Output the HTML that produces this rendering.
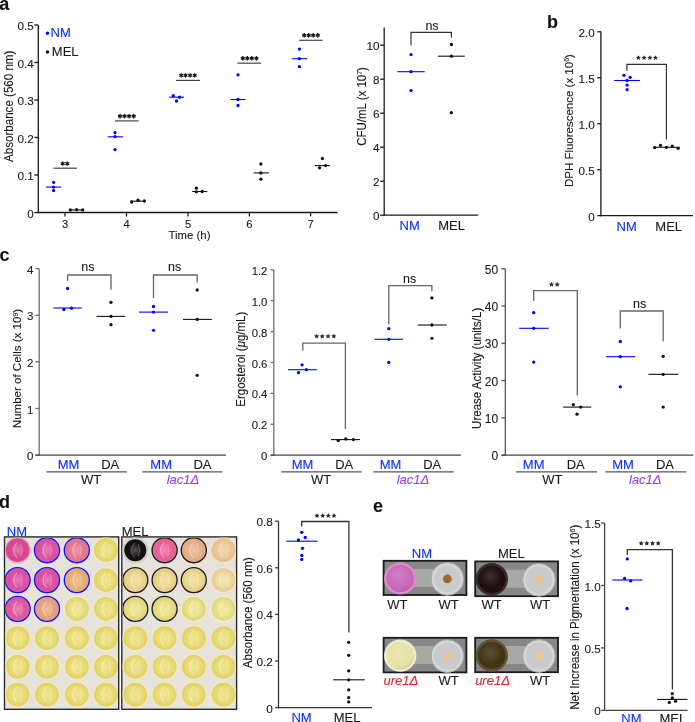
<!DOCTYPE html>
<html><head><meta charset="utf-8"><style>
html,body{margin:0;padding:0;background:#fff;}
svg{display:block;font-family:"Liberation Sans", sans-serif;will-change:transform;}

</style></head><body>
<svg width="695" height="722" viewBox="0 0 695 722">
<defs>
<radialGradient id="shade2" cx="0.45" cy="0.4" r="0.6">
<stop offset="0" stop-color="#fff" stop-opacity="0.15"/>
<stop offset="0.8" stop-color="#fff" stop-opacity="0"/>
<stop offset="1" stop-color="#000" stop-opacity="0.1"/>
</radialGradient>
</defs>
<rect width="695" height="722" fill="#fff"/>
<rect x="4.5" y="536.9" width="114.2" height="172.4" fill="#e6e2dc" stroke="#2a2a2a" stroke-width="1.4"/>
<rect x="121.8" y="536.9" width="114.8" height="172.4" fill="#e6e2dc" stroke="#2a2a2a" stroke-width="1.4"/>
<clipPath id="cpL"><rect x="5.2" y="537.6" width="112.8" height="171"/></clipPath>
<clipPath id="cpR"><rect x="122.5" y="537.6" width="113.4" height="171"/></clipPath>
<g clip-path="url(#cpL)">
<radialGradient id="w1" cx="0.5" cy="0.5" r="0.5"><stop offset="0" stop-color="#e57bac"/><stop offset="0.6" stop-color="#da4496"/><stop offset="1" stop-color="#d34f86"/></radialGradient>
<circle cx="17.60" cy="550.20" r="13.4" fill="#eab5cb"/>
<circle cx="17.60" cy="550.20" r="11.9" fill="url(#w1)"/>
<path d="M20.60,543.70 q3.0,6.5 0,13" fill="none" stroke="#ffffff" stroke-opacity="0.25" stroke-width="1.0"/>
<path d="M17.10,542.70 q-7,7.5 0,15" fill="none" stroke="#ffffff" stroke-opacity="0.35" stroke-width="1.3"/>
<radialGradient id="w2" cx="0.5" cy="0.5" r="0.5"><stop offset="0" stop-color="#e683b7"/><stop offset="0.6" stop-color="#dc50a6"/><stop offset="1" stop-color="#d55993"/></radialGradient>
<circle cx="47.00" cy="550.20" r="13.4" fill="#ebb9d0"/>
<circle cx="47.00" cy="550.20" r="11.9" fill="url(#w2)"/>
<path d="M50.00,543.70 q3.0,6.5 0,13" fill="none" stroke="#ffffff" stroke-opacity="0.25" stroke-width="1.0"/>
<path d="M46.50,542.70 q-7,7.5 0,15" fill="none" stroke="#ffffff" stroke-opacity="0.35" stroke-width="1.3"/>
<circle cx="47.00" cy="550.20" r="12.50" fill="none" stroke="#1010ff" stroke-width="1.35"/>
<radialGradient id="w3" cx="0.5" cy="0.5" r="0.5"><stop offset="0" stop-color="#eb9fa9"/><stop offset="0.6" stop-color="#e27892"/><stop offset="1" stop-color="#da7b82"/></radialGradient>
<circle cx="76.80" cy="550.20" r="13.4" fill="#edc7c9"/>
<circle cx="76.80" cy="550.20" r="11.9" fill="url(#w3)"/>
<path d="M79.80,543.70 q3.0,6.5 0,13" fill="none" stroke="#ffffff" stroke-opacity="0.25" stroke-width="1.0"/>
<path d="M76.30,542.70 q-7,7.5 0,15" fill="none" stroke="#ffffff" stroke-opacity="0.35" stroke-width="1.3"/>
<circle cx="76.80" cy="550.20" r="12.50" fill="none" stroke="#1010ff" stroke-width="1.35"/>
<radialGradient id="w4" cx="0.5" cy="0.5" r="0.5"><stop offset="0" stop-color="#f0e596"/><stop offset="0.6" stop-color="#e9dc76"/><stop offset="1" stop-color="#e0cf6b"/></radialGradient>
<circle cx="106.00" cy="550.20" r="13.4" fill="#efe9c0"/>
<circle cx="106.00" cy="550.20" r="11.9" fill="url(#w4)"/>
<path d="M109.00,543.70 q3.0,6.5 0,13" fill="none" stroke="#ffffff" stroke-opacity="0.25" stroke-width="1.0"/>
<path d="M105.50,542.70 q-7,7.5 0,15" fill="none" stroke="#ffffff" stroke-opacity="0.35" stroke-width="1.3"/>
<radialGradient id="w5" cx="0.5" cy="0.5" r="0.5"><stop offset="0" stop-color="#e682b9"/><stop offset="0.6" stop-color="#dc4ea8"/><stop offset="1" stop-color="#d55895"/></radialGradient>
<circle cx="17.60" cy="580.10" r="13.4" fill="#ebb8d1"/>
<circle cx="17.60" cy="580.10" r="11.9" fill="url(#w5)"/>
<path d="M20.60,573.60 q3.0,6.5 0,13" fill="none" stroke="#ffffff" stroke-opacity="0.25" stroke-width="1.0"/>
<path d="M17.10,572.60 q-7,7.5 0,15" fill="none" stroke="#ffffff" stroke-opacity="0.35" stroke-width="1.3"/>
<circle cx="17.60" cy="580.10" r="12.50" fill="none" stroke="#1010ff" stroke-width="1.35"/>
<radialGradient id="w6" cx="0.5" cy="0.5" r="0.5"><stop offset="0" stop-color="#e682b6"/><stop offset="0.6" stop-color="#dc4ea4"/><stop offset="1" stop-color="#d55891"/></radialGradient>
<circle cx="47.00" cy="580.10" r="13.4" fill="#ebb8d0"/>
<circle cx="47.00" cy="580.10" r="11.9" fill="url(#w6)"/>
<path d="M50.00,573.60 q3.0,6.5 0,13" fill="none" stroke="#ffffff" stroke-opacity="0.25" stroke-width="1.0"/>
<path d="M46.50,572.60 q-7,7.5 0,15" fill="none" stroke="#ffffff" stroke-opacity="0.35" stroke-width="1.3"/>
<circle cx="47.00" cy="580.10" r="12.50" fill="none" stroke="#1010ff" stroke-width="1.35"/>
<radialGradient id="w7" cx="0.5" cy="0.5" r="0.5"><stop offset="0" stop-color="#efc697"/><stop offset="0.6" stop-color="#e8b078"/><stop offset="1" stop-color="#dfaa6c"/></radialGradient>
<circle cx="76.80" cy="580.10" r="13.4" fill="#efdac1"/>
<circle cx="76.80" cy="580.10" r="11.9" fill="url(#w7)"/>
<path d="M79.80,573.60 q3.0,6.5 0,13" fill="none" stroke="#ffffff" stroke-opacity="0.25" stroke-width="1.0"/>
<path d="M76.30,572.60 q-7,7.5 0,15" fill="none" stroke="#ffffff" stroke-opacity="0.35" stroke-width="1.3"/>
<circle cx="76.80" cy="580.10" r="12.50" fill="none" stroke="#1010ff" stroke-width="1.35"/>
<radialGradient id="w8" cx="0.5" cy="0.5" r="0.5"><stop offset="0" stop-color="#f0e596"/><stop offset="0.6" stop-color="#e9dc76"/><stop offset="1" stop-color="#e0cf6b"/></radialGradient>
<circle cx="106.00" cy="580.10" r="13.4" fill="#efe9c0"/>
<circle cx="106.00" cy="580.10" r="11.9" fill="url(#w8)"/>
<path d="M109.00,573.60 q3.0,6.5 0,13" fill="none" stroke="#ffffff" stroke-opacity="0.25" stroke-width="1.0"/>
<path d="M105.50,572.60 q-7,7.5 0,15" fill="none" stroke="#ffffff" stroke-opacity="0.35" stroke-width="1.3"/>
<radialGradient id="w9" cx="0.5" cy="0.5" r="0.5"><stop offset="0" stop-color="#e989b2"/><stop offset="0.6" stop-color="#e0589e"/><stop offset="1" stop-color="#d8608c"/></radialGradient>
<circle cx="17.60" cy="608.90" r="13.4" fill="#ecbcce"/>
<circle cx="17.60" cy="608.90" r="11.9" fill="url(#w9)"/>
<path d="M20.60,602.40 q3.0,6.5 0,13" fill="none" stroke="#ffffff" stroke-opacity="0.25" stroke-width="1.0"/>
<path d="M17.10,601.40 q-7,7.5 0,15" fill="none" stroke="#ffffff" stroke-opacity="0.35" stroke-width="1.3"/>
<circle cx="17.60" cy="608.90" r="12.50" fill="none" stroke="#1010ff" stroke-width="1.35"/>
<radialGradient id="w10" cx="0.5" cy="0.5" r="0.5"><stop offset="0" stop-color="#efbd9e"/><stop offset="0.6" stop-color="#e8a282"/><stop offset="1" stop-color="#df9e75"/></radialGradient>
<circle cx="47.00" cy="608.90" r="13.4" fill="#efd5c4"/>
<circle cx="47.00" cy="608.90" r="11.9" fill="url(#w10)"/>
<path d="M50.00,602.40 q3.0,6.5 0,13" fill="none" stroke="#ffffff" stroke-opacity="0.25" stroke-width="1.0"/>
<path d="M46.50,601.40 q-7,7.5 0,15" fill="none" stroke="#ffffff" stroke-opacity="0.35" stroke-width="1.3"/>
<circle cx="47.00" cy="608.90" r="12.50" fill="none" stroke="#1010ff" stroke-width="1.35"/>
<radialGradient id="w11" cx="0.5" cy="0.5" r="0.5"><stop offset="0" stop-color="#f0e79e"/><stop offset="0.6" stop-color="#e9df82"/><stop offset="1" stop-color="#e0d175"/></radialGradient>
<circle cx="76.80" cy="608.90" r="13.4" fill="#efeac4"/>
<circle cx="76.80" cy="608.90" r="11.9" fill="url(#w11)"/>
<path d="M79.80,602.40 q3.0,6.5 0,13" fill="none" stroke="#ffffff" stroke-opacity="0.25" stroke-width="1.0"/>
<path d="M76.30,601.40 q-7,7.5 0,15" fill="none" stroke="#ffffff" stroke-opacity="0.35" stroke-width="1.3"/>
<radialGradient id="w12" cx="0.5" cy="0.5" r="0.5"><stop offset="0" stop-color="#f0e596"/><stop offset="0.6" stop-color="#e9dc76"/><stop offset="1" stop-color="#e0cf6b"/></radialGradient>
<circle cx="106.00" cy="608.90" r="13.4" fill="#efe9c0"/>
<circle cx="106.00" cy="608.90" r="11.9" fill="url(#w12)"/>
<path d="M109.00,602.40 q3.0,6.5 0,13" fill="none" stroke="#ffffff" stroke-opacity="0.25" stroke-width="1.0"/>
<path d="M105.50,601.40 q-7,7.5 0,15" fill="none" stroke="#ffffff" stroke-opacity="0.35" stroke-width="1.3"/>
<radialGradient id="w13" cx="0.5" cy="0.5" r="0.5"><stop offset="0" stop-color="#f0e596"/><stop offset="0.6" stop-color="#e9dc76"/><stop offset="1" stop-color="#e0cf6b"/></radialGradient>
<circle cx="17.60" cy="638.20" r="13.4" fill="#efe9c0"/>
<circle cx="17.60" cy="638.20" r="11.9" fill="url(#w13)"/>
<path d="M20.60,631.70 q3.0,6.5 0,13" fill="none" stroke="#ffffff" stroke-opacity="0.25" stroke-width="1.0"/>
<path d="M17.10,630.70 q-7,7.5 0,15" fill="none" stroke="#ffffff" stroke-opacity="0.35" stroke-width="1.3"/>
<radialGradient id="w14" cx="0.5" cy="0.5" r="0.5"><stop offset="0" stop-color="#f0e596"/><stop offset="0.6" stop-color="#e9dc76"/><stop offset="1" stop-color="#e0cf6b"/></radialGradient>
<circle cx="47.00" cy="638.20" r="13.4" fill="#efe9c0"/>
<circle cx="47.00" cy="638.20" r="11.9" fill="url(#w14)"/>
<path d="M50.00,631.70 q3.0,6.5 0,13" fill="none" stroke="#ffffff" stroke-opacity="0.25" stroke-width="1.0"/>
<path d="M46.50,630.70 q-7,7.5 0,15" fill="none" stroke="#ffffff" stroke-opacity="0.35" stroke-width="1.3"/>
<radialGradient id="w15" cx="0.5" cy="0.5" r="0.5"><stop offset="0" stop-color="#f0e596"/><stop offset="0.6" stop-color="#e9dc76"/><stop offset="1" stop-color="#e0cf6b"/></radialGradient>
<circle cx="76.80" cy="638.20" r="13.4" fill="#efe9c0"/>
<circle cx="76.80" cy="638.20" r="11.9" fill="url(#w15)"/>
<path d="M79.80,631.70 q3.0,6.5 0,13" fill="none" stroke="#ffffff" stroke-opacity="0.25" stroke-width="1.0"/>
<path d="M76.30,630.70 q-7,7.5 0,15" fill="none" stroke="#ffffff" stroke-opacity="0.35" stroke-width="1.3"/>
<radialGradient id="w16" cx="0.5" cy="0.5" r="0.5"><stop offset="0" stop-color="#f0e596"/><stop offset="0.6" stop-color="#e9dc76"/><stop offset="1" stop-color="#e0cf6b"/></radialGradient>
<circle cx="106.00" cy="638.20" r="13.4" fill="#efe9c0"/>
<circle cx="106.00" cy="638.20" r="11.9" fill="url(#w16)"/>
<path d="M109.00,631.70 q3.0,6.5 0,13" fill="none" stroke="#ffffff" stroke-opacity="0.25" stroke-width="1.0"/>
<path d="M105.50,630.70 q-7,7.5 0,15" fill="none" stroke="#ffffff" stroke-opacity="0.35" stroke-width="1.3"/>
<radialGradient id="w17" cx="0.5" cy="0.5" r="0.5"><stop offset="0" stop-color="#f0e596"/><stop offset="0.6" stop-color="#e9dc76"/><stop offset="1" stop-color="#e0cf6b"/></radialGradient>
<circle cx="17.60" cy="666.80" r="13.4" fill="#efe9c0"/>
<circle cx="17.60" cy="666.80" r="11.9" fill="url(#w17)"/>
<path d="M20.60,660.30 q3.0,6.5 0,13" fill="none" stroke="#ffffff" stroke-opacity="0.25" stroke-width="1.0"/>
<path d="M17.10,659.30 q-7,7.5 0,15" fill="none" stroke="#ffffff" stroke-opacity="0.35" stroke-width="1.3"/>
<radialGradient id="w18" cx="0.5" cy="0.5" r="0.5"><stop offset="0" stop-color="#f0e596"/><stop offset="0.6" stop-color="#e9dc76"/><stop offset="1" stop-color="#e0cf6b"/></radialGradient>
<circle cx="47.00" cy="666.80" r="13.4" fill="#efe9c0"/>
<circle cx="47.00" cy="666.80" r="11.9" fill="url(#w18)"/>
<path d="M50.00,660.30 q3.0,6.5 0,13" fill="none" stroke="#ffffff" stroke-opacity="0.25" stroke-width="1.0"/>
<path d="M46.50,659.30 q-7,7.5 0,15" fill="none" stroke="#ffffff" stroke-opacity="0.35" stroke-width="1.3"/>
<radialGradient id="w19" cx="0.5" cy="0.5" r="0.5"><stop offset="0" stop-color="#f0e596"/><stop offset="0.6" stop-color="#e9dc76"/><stop offset="1" stop-color="#e0cf6b"/></radialGradient>
<circle cx="76.80" cy="666.80" r="13.4" fill="#efe9c0"/>
<circle cx="76.80" cy="666.80" r="11.9" fill="url(#w19)"/>
<path d="M79.80,660.30 q3.0,6.5 0,13" fill="none" stroke="#ffffff" stroke-opacity="0.25" stroke-width="1.0"/>
<path d="M76.30,659.30 q-7,7.5 0,15" fill="none" stroke="#ffffff" stroke-opacity="0.35" stroke-width="1.3"/>
<radialGradient id="w20" cx="0.5" cy="0.5" r="0.5"><stop offset="0" stop-color="#f0e596"/><stop offset="0.6" stop-color="#e9dc76"/><stop offset="1" stop-color="#e0cf6b"/></radialGradient>
<circle cx="106.00" cy="666.80" r="13.4" fill="#efe9c0"/>
<circle cx="106.00" cy="666.80" r="11.9" fill="url(#w20)"/>
<path d="M109.00,660.30 q3.0,6.5 0,13" fill="none" stroke="#ffffff" stroke-opacity="0.25" stroke-width="1.0"/>
<path d="M105.50,659.30 q-7,7.5 0,15" fill="none" stroke="#ffffff" stroke-opacity="0.35" stroke-width="1.3"/>
<radialGradient id="w21" cx="0.5" cy="0.5" r="0.5"><stop offset="0" stop-color="#f0e596"/><stop offset="0.6" stop-color="#e9dc76"/><stop offset="1" stop-color="#e0cf6b"/></radialGradient>
<circle cx="17.60" cy="694.60" r="13.4" fill="#efe9c0"/>
<circle cx="17.60" cy="694.60" r="11.9" fill="url(#w21)"/>
<path d="M20.60,688.10 q3.0,6.5 0,13" fill="none" stroke="#ffffff" stroke-opacity="0.25" stroke-width="1.0"/>
<path d="M17.10,687.10 q-7,7.5 0,15" fill="none" stroke="#ffffff" stroke-opacity="0.35" stroke-width="1.3"/>
<radialGradient id="w22" cx="0.5" cy="0.5" r="0.5"><stop offset="0" stop-color="#f0e596"/><stop offset="0.6" stop-color="#e9dc76"/><stop offset="1" stop-color="#e0cf6b"/></radialGradient>
<circle cx="47.00" cy="694.60" r="13.4" fill="#efe9c0"/>
<circle cx="47.00" cy="694.60" r="11.9" fill="url(#w22)"/>
<path d="M50.00,688.10 q3.0,6.5 0,13" fill="none" stroke="#ffffff" stroke-opacity="0.25" stroke-width="1.0"/>
<path d="M46.50,687.10 q-7,7.5 0,15" fill="none" stroke="#ffffff" stroke-opacity="0.35" stroke-width="1.3"/>
<radialGradient id="w23" cx="0.5" cy="0.5" r="0.5"><stop offset="0" stop-color="#f0e596"/><stop offset="0.6" stop-color="#e9dc76"/><stop offset="1" stop-color="#e0cf6b"/></radialGradient>
<circle cx="76.80" cy="694.60" r="13.4" fill="#efe9c0"/>
<circle cx="76.80" cy="694.60" r="11.9" fill="url(#w23)"/>
<path d="M79.80,688.10 q3.0,6.5 0,13" fill="none" stroke="#ffffff" stroke-opacity="0.25" stroke-width="1.0"/>
<path d="M76.30,687.10 q-7,7.5 0,15" fill="none" stroke="#ffffff" stroke-opacity="0.35" stroke-width="1.3"/>
<radialGradient id="w24" cx="0.5" cy="0.5" r="0.5"><stop offset="0" stop-color="#f0e596"/><stop offset="0.6" stop-color="#e9dc76"/><stop offset="1" stop-color="#e0cf6b"/></radialGradient>
<circle cx="106.00" cy="694.60" r="13.4" fill="#efe9c0"/>
<circle cx="106.00" cy="694.60" r="11.9" fill="url(#w24)"/>
<path d="M109.00,688.10 q3.0,6.5 0,13" fill="none" stroke="#ffffff" stroke-opacity="0.25" stroke-width="1.0"/>
<path d="M105.50,687.10 q-7,7.5 0,15" fill="none" stroke="#ffffff" stroke-opacity="0.35" stroke-width="1.3"/>
</g><g clip-path="url(#cpR)">
<radialGradient id="w25" cx="0.5" cy="0.5" r="0.5"><stop offset="0" stop-color="#5a5651"/><stop offset="0.6" stop-color="#141014"/><stop offset="1" stop-color="#110d11"/></radialGradient>
<circle cx="135.30" cy="550.20" r="13.4" fill="#d4d0cc"/>
<circle cx="135.30" cy="550.20" r="11.0" fill="url(#w25)"/>
<path d="M138.30,543.70 q3.0,6.5 0,13" fill="none" stroke="#ffffff" stroke-opacity="0.25" stroke-width="1.0"/>
<path d="M134.80,542.70 q-7,7.5 0,15" fill="none" stroke="#ffffff" stroke-opacity="0.2" stroke-width="1.3"/>
<radialGradient id="w26" cx="0.5" cy="0.5" r="0.5"><stop offset="0" stop-color="#ef8eb2"/><stop offset="0.6" stop-color="#e8609e"/><stop offset="1" stop-color="#df678c"/></radialGradient>
<circle cx="164.60" cy="550.20" r="13.4" fill="#efbece"/>
<circle cx="164.60" cy="550.20" r="11.9" fill="url(#w26)"/>
<path d="M167.60,543.70 q3.0,6.5 0,13" fill="none" stroke="#ffffff" stroke-opacity="0.25" stroke-width="1.0"/>
<path d="M164.10,542.70 q-7,7.5 0,15" fill="none" stroke="#ffffff" stroke-opacity="0.35" stroke-width="1.3"/>
<circle cx="164.60" cy="550.20" r="12.50" fill="none" stroke="#1a1a1a" stroke-width="1.35"/>
<radialGradient id="w27" cx="0.5" cy="0.5" r="0.5"><stop offset="0" stop-color="#efc6a5"/><stop offset="0.6" stop-color="#e8b08c"/><stop offset="1" stop-color="#dfaa7d"/></radialGradient>
<circle cx="193.80" cy="550.20" r="13.4" fill="#efdac7"/>
<circle cx="193.80" cy="550.20" r="11.9" fill="url(#w27)"/>
<path d="M196.80,543.70 q3.0,6.5 0,13" fill="none" stroke="#ffffff" stroke-opacity="0.25" stroke-width="1.0"/>
<path d="M193.30,542.70 q-7,7.5 0,15" fill="none" stroke="#ffffff" stroke-opacity="0.35" stroke-width="1.3"/>
<circle cx="193.80" cy="550.20" r="12.50" fill="none" stroke="#1a1a1a" stroke-width="1.35"/>
<radialGradient id="w28" cx="0.5" cy="0.5" r="0.5"><stop offset="0" stop-color="#f2d7ae"/><stop offset="0.6" stop-color="#ecc898"/><stop offset="1" stop-color="#e2be87"/></radialGradient>
<circle cx="223.50" cy="550.20" r="13.4" fill="#f0e2cb"/>
<circle cx="223.50" cy="550.20" r="11.9" fill="url(#w28)"/>
<path d="M226.50,543.70 q3.0,6.5 0,13" fill="none" stroke="#ffffff" stroke-opacity="0.25" stroke-width="1.0"/>
<path d="M223.00,542.70 q-7,7.5 0,15" fill="none" stroke="#ffffff" stroke-opacity="0.35" stroke-width="1.3"/>
<radialGradient id="w29" cx="0.5" cy="0.5" r="0.5"><stop offset="0" stop-color="#f2e1a8"/><stop offset="0.6" stop-color="#ecd690"/><stop offset="1" stop-color="#e2ca81"/></radialGradient>
<circle cx="135.30" cy="580.10" r="13.4" fill="#f0e6c9"/>
<circle cx="135.30" cy="580.10" r="11.9" fill="url(#w29)"/>
<path d="M138.30,573.60 q3.0,6.5 0,13" fill="none" stroke="#ffffff" stroke-opacity="0.25" stroke-width="1.0"/>
<path d="M134.80,572.60 q-7,7.5 0,15" fill="none" stroke="#ffffff" stroke-opacity="0.35" stroke-width="1.3"/>
<circle cx="135.30" cy="580.10" r="12.50" fill="none" stroke="#1a1a1a" stroke-width="1.35"/>
<radialGradient id="w30" cx="0.5" cy="0.5" r="0.5"><stop offset="0" stop-color="#f2e1a8"/><stop offset="0.6" stop-color="#ecd690"/><stop offset="1" stop-color="#e2ca81"/></radialGradient>
<circle cx="164.60" cy="580.10" r="13.4" fill="#f0e6c9"/>
<circle cx="164.60" cy="580.10" r="11.9" fill="url(#w30)"/>
<path d="M167.60,573.60 q3.0,6.5 0,13" fill="none" stroke="#ffffff" stroke-opacity="0.25" stroke-width="1.0"/>
<path d="M164.10,572.60 q-7,7.5 0,15" fill="none" stroke="#ffffff" stroke-opacity="0.35" stroke-width="1.3"/>
<circle cx="164.60" cy="580.10" r="12.50" fill="none" stroke="#1a1a1a" stroke-width="1.35"/>
<radialGradient id="w31" cx="0.5" cy="0.5" r="0.5"><stop offset="0" stop-color="#f2e2a9"/><stop offset="0.6" stop-color="#ecd892"/><stop offset="1" stop-color="#e2cc82"/></radialGradient>
<circle cx="193.80" cy="580.10" r="13.4" fill="#f0e7c9"/>
<circle cx="193.80" cy="580.10" r="11.9" fill="url(#w31)"/>
<path d="M196.80,573.60 q3.0,6.5 0,13" fill="none" stroke="#ffffff" stroke-opacity="0.25" stroke-width="1.0"/>
<path d="M193.30,572.60 q-7,7.5 0,15" fill="none" stroke="#ffffff" stroke-opacity="0.35" stroke-width="1.3"/>
<circle cx="193.80" cy="580.10" r="12.50" fill="none" stroke="#1a1a1a" stroke-width="1.35"/>
<radialGradient id="w32" cx="0.5" cy="0.5" r="0.5"><stop offset="0" stop-color="#f3e2b5"/><stop offset="0.6" stop-color="#eed8a2"/><stop offset="1" stop-color="#e4cc90"/></radialGradient>
<circle cx="223.50" cy="580.10" r="13.4" fill="#f1e7cf"/>
<circle cx="223.50" cy="580.10" r="11.9" fill="url(#w32)"/>
<path d="M226.50,573.60 q3.0,6.5 0,13" fill="none" stroke="#ffffff" stroke-opacity="0.25" stroke-width="1.0"/>
<path d="M223.00,572.60 q-7,7.5 0,15" fill="none" stroke="#ffffff" stroke-opacity="0.35" stroke-width="1.3"/>
<radialGradient id="w33" cx="0.5" cy="0.5" r="0.5"><stop offset="0" stop-color="#f0e7a0"/><stop offset="0.6" stop-color="#e9df84"/><stop offset="1" stop-color="#e0d177"/></radialGradient>
<circle cx="135.30" cy="608.90" r="13.4" fill="#efeac5"/>
<circle cx="135.30" cy="608.90" r="11.9" fill="url(#w33)"/>
<path d="M138.30,602.40 q3.0,6.5 0,13" fill="none" stroke="#ffffff" stroke-opacity="0.25" stroke-width="1.0"/>
<path d="M134.80,601.40 q-7,7.5 0,15" fill="none" stroke="#ffffff" stroke-opacity="0.35" stroke-width="1.3"/>
<circle cx="135.30" cy="608.90" r="12.50" fill="none" stroke="#1a1a1a" stroke-width="1.35"/>
<radialGradient id="w34" cx="0.5" cy="0.5" r="0.5"><stop offset="0" stop-color="#f0e7a0"/><stop offset="0.6" stop-color="#e9df84"/><stop offset="1" stop-color="#e0d177"/></radialGradient>
<circle cx="164.60" cy="608.90" r="13.4" fill="#efeac5"/>
<circle cx="164.60" cy="608.90" r="11.9" fill="url(#w34)"/>
<path d="M167.60,602.40 q3.0,6.5 0,13" fill="none" stroke="#ffffff" stroke-opacity="0.25" stroke-width="1.0"/>
<path d="M164.10,601.40 q-7,7.5 0,15" fill="none" stroke="#ffffff" stroke-opacity="0.35" stroke-width="1.3"/>
<circle cx="164.60" cy="608.90" r="12.50" fill="none" stroke="#1a1a1a" stroke-width="1.35"/>
<radialGradient id="w35" cx="0.5" cy="0.5" r="0.5"><stop offset="0" stop-color="#f0e9a2"/><stop offset="0.6" stop-color="#e9e188"/><stop offset="1" stop-color="#e0d37a"/></radialGradient>
<circle cx="193.80" cy="608.90" r="13.4" fill="#efeac6"/>
<circle cx="193.80" cy="608.90" r="11.9" fill="url(#w35)"/>
<path d="M196.80,602.40 q3.0,6.5 0,13" fill="none" stroke="#ffffff" stroke-opacity="0.25" stroke-width="1.0"/>
<path d="M193.30,601.40 q-7,7.5 0,15" fill="none" stroke="#ffffff" stroke-opacity="0.35" stroke-width="1.3"/>
<radialGradient id="w36" cx="0.5" cy="0.5" r="0.5"><stop offset="0" stop-color="#f0eaa4"/><stop offset="0.6" stop-color="#e9e28a"/><stop offset="1" stop-color="#e0d47c"/></radialGradient>
<circle cx="223.50" cy="608.90" r="13.4" fill="#efebc7"/>
<circle cx="223.50" cy="608.90" r="11.9" fill="url(#w36)"/>
<path d="M226.50,602.40 q3.0,6.5 0,13" fill="none" stroke="#ffffff" stroke-opacity="0.25" stroke-width="1.0"/>
<path d="M223.00,601.40 q-7,7.5 0,15" fill="none" stroke="#ffffff" stroke-opacity="0.35" stroke-width="1.3"/>
<radialGradient id="w37" cx="0.5" cy="0.5" r="0.5"><stop offset="0" stop-color="#f0e596"/><stop offset="0.6" stop-color="#e9dc76"/><stop offset="1" stop-color="#e0cf6b"/></radialGradient>
<circle cx="135.30" cy="638.20" r="13.4" fill="#efe9c0"/>
<circle cx="135.30" cy="638.20" r="11.9" fill="url(#w37)"/>
<path d="M138.30,631.70 q3.0,6.5 0,13" fill="none" stroke="#ffffff" stroke-opacity="0.25" stroke-width="1.0"/>
<path d="M134.80,630.70 q-7,7.5 0,15" fill="none" stroke="#ffffff" stroke-opacity="0.35" stroke-width="1.3"/>
<radialGradient id="w38" cx="0.5" cy="0.5" r="0.5"><stop offset="0" stop-color="#f0e596"/><stop offset="0.6" stop-color="#e9dc76"/><stop offset="1" stop-color="#e0cf6b"/></radialGradient>
<circle cx="164.60" cy="638.20" r="13.4" fill="#efe9c0"/>
<circle cx="164.60" cy="638.20" r="11.9" fill="url(#w38)"/>
<path d="M167.60,631.70 q3.0,6.5 0,13" fill="none" stroke="#ffffff" stroke-opacity="0.25" stroke-width="1.0"/>
<path d="M164.10,630.70 q-7,7.5 0,15" fill="none" stroke="#ffffff" stroke-opacity="0.35" stroke-width="1.3"/>
<radialGradient id="w39" cx="0.5" cy="0.5" r="0.5"><stop offset="0" stop-color="#f0e596"/><stop offset="0.6" stop-color="#e9dc76"/><stop offset="1" stop-color="#e0cf6b"/></radialGradient>
<circle cx="193.80" cy="638.20" r="13.4" fill="#efe9c0"/>
<circle cx="193.80" cy="638.20" r="11.9" fill="url(#w39)"/>
<path d="M196.80,631.70 q3.0,6.5 0,13" fill="none" stroke="#ffffff" stroke-opacity="0.25" stroke-width="1.0"/>
<path d="M193.30,630.70 q-7,7.5 0,15" fill="none" stroke="#ffffff" stroke-opacity="0.35" stroke-width="1.3"/>
<radialGradient id="w40" cx="0.5" cy="0.5" r="0.5"><stop offset="0" stop-color="#f0e596"/><stop offset="0.6" stop-color="#e9dc76"/><stop offset="1" stop-color="#e0cf6b"/></radialGradient>
<circle cx="223.50" cy="638.20" r="13.4" fill="#efe9c0"/>
<circle cx="223.50" cy="638.20" r="11.9" fill="url(#w40)"/>
<path d="M226.50,631.70 q3.0,6.5 0,13" fill="none" stroke="#ffffff" stroke-opacity="0.25" stroke-width="1.0"/>
<path d="M223.00,630.70 q-7,7.5 0,15" fill="none" stroke="#ffffff" stroke-opacity="0.35" stroke-width="1.3"/>
<radialGradient id="w41" cx="0.5" cy="0.5" r="0.5"><stop offset="0" stop-color="#f0e596"/><stop offset="0.6" stop-color="#e9dc76"/><stop offset="1" stop-color="#e0cf6b"/></radialGradient>
<circle cx="135.30" cy="666.80" r="13.4" fill="#efe9c0"/>
<circle cx="135.30" cy="666.80" r="11.9" fill="url(#w41)"/>
<path d="M138.30,660.30 q3.0,6.5 0,13" fill="none" stroke="#ffffff" stroke-opacity="0.25" stroke-width="1.0"/>
<path d="M134.80,659.30 q-7,7.5 0,15" fill="none" stroke="#ffffff" stroke-opacity="0.35" stroke-width="1.3"/>
<radialGradient id="w42" cx="0.5" cy="0.5" r="0.5"><stop offset="0" stop-color="#f0e596"/><stop offset="0.6" stop-color="#e9dc76"/><stop offset="1" stop-color="#e0cf6b"/></radialGradient>
<circle cx="164.60" cy="666.80" r="13.4" fill="#efe9c0"/>
<circle cx="164.60" cy="666.80" r="11.9" fill="url(#w42)"/>
<path d="M167.60,660.30 q3.0,6.5 0,13" fill="none" stroke="#ffffff" stroke-opacity="0.25" stroke-width="1.0"/>
<path d="M164.10,659.30 q-7,7.5 0,15" fill="none" stroke="#ffffff" stroke-opacity="0.35" stroke-width="1.3"/>
<radialGradient id="w43" cx="0.5" cy="0.5" r="0.5"><stop offset="0" stop-color="#f0e596"/><stop offset="0.6" stop-color="#e9dc76"/><stop offset="1" stop-color="#e0cf6b"/></radialGradient>
<circle cx="193.80" cy="666.80" r="13.4" fill="#efe9c0"/>
<circle cx="193.80" cy="666.80" r="11.9" fill="url(#w43)"/>
<path d="M196.80,660.30 q3.0,6.5 0,13" fill="none" stroke="#ffffff" stroke-opacity="0.25" stroke-width="1.0"/>
<path d="M193.30,659.30 q-7,7.5 0,15" fill="none" stroke="#ffffff" stroke-opacity="0.35" stroke-width="1.3"/>
<radialGradient id="w44" cx="0.5" cy="0.5" r="0.5"><stop offset="0" stop-color="#f0e596"/><stop offset="0.6" stop-color="#e9dc76"/><stop offset="1" stop-color="#e0cf6b"/></radialGradient>
<circle cx="223.50" cy="666.80" r="13.4" fill="#efe9c0"/>
<circle cx="223.50" cy="666.80" r="11.9" fill="url(#w44)"/>
<path d="M226.50,660.30 q3.0,6.5 0,13" fill="none" stroke="#ffffff" stroke-opacity="0.25" stroke-width="1.0"/>
<path d="M223.00,659.30 q-7,7.5 0,15" fill="none" stroke="#ffffff" stroke-opacity="0.35" stroke-width="1.3"/>
<radialGradient id="w45" cx="0.5" cy="0.5" r="0.5"><stop offset="0" stop-color="#f0e596"/><stop offset="0.6" stop-color="#e9dc76"/><stop offset="1" stop-color="#e0cf6b"/></radialGradient>
<circle cx="135.30" cy="694.60" r="13.4" fill="#efe9c0"/>
<circle cx="135.30" cy="694.60" r="11.9" fill="url(#w45)"/>
<path d="M138.30,688.10 q3.0,6.5 0,13" fill="none" stroke="#ffffff" stroke-opacity="0.25" stroke-width="1.0"/>
<path d="M134.80,687.10 q-7,7.5 0,15" fill="none" stroke="#ffffff" stroke-opacity="0.35" stroke-width="1.3"/>
<radialGradient id="w46" cx="0.5" cy="0.5" r="0.5"><stop offset="0" stop-color="#f0e596"/><stop offset="0.6" stop-color="#e9dc76"/><stop offset="1" stop-color="#e0cf6b"/></radialGradient>
<circle cx="164.60" cy="694.60" r="13.4" fill="#efe9c0"/>
<circle cx="164.60" cy="694.60" r="11.9" fill="url(#w46)"/>
<path d="M167.60,688.10 q3.0,6.5 0,13" fill="none" stroke="#ffffff" stroke-opacity="0.25" stroke-width="1.0"/>
<path d="M164.10,687.10 q-7,7.5 0,15" fill="none" stroke="#ffffff" stroke-opacity="0.35" stroke-width="1.3"/>
<radialGradient id="w47" cx="0.5" cy="0.5" r="0.5"><stop offset="0" stop-color="#f0e596"/><stop offset="0.6" stop-color="#e9dc76"/><stop offset="1" stop-color="#e0cf6b"/></radialGradient>
<circle cx="193.80" cy="694.60" r="13.4" fill="#efe9c0"/>
<circle cx="193.80" cy="694.60" r="11.9" fill="url(#w47)"/>
<path d="M196.80,688.10 q3.0,6.5 0,13" fill="none" stroke="#ffffff" stroke-opacity="0.25" stroke-width="1.0"/>
<path d="M193.30,687.10 q-7,7.5 0,15" fill="none" stroke="#ffffff" stroke-opacity="0.35" stroke-width="1.3"/>
<radialGradient id="w48" cx="0.5" cy="0.5" r="0.5"><stop offset="0" stop-color="#f0e596"/><stop offset="0.6" stop-color="#e9dc76"/><stop offset="1" stop-color="#e0cf6b"/></radialGradient>
<circle cx="223.50" cy="694.60" r="13.4" fill="#efe9c0"/>
<circle cx="223.50" cy="694.60" r="11.9" fill="url(#w48)"/>
<path d="M226.50,688.10 q3.0,6.5 0,13" fill="none" stroke="#ffffff" stroke-opacity="0.25" stroke-width="1.0"/>
<path d="M223.00,687.10 q-7,7.5 0,15" fill="none" stroke="#ffffff" stroke-opacity="0.35" stroke-width="1.3"/>
</g>
<rect x="383.6" y="560.8" width="82.79999999999995" height="34.200000000000045" fill="#878787" stroke="#1a1a1a" stroke-width="1.8"/>
<rect x="397.6" y="568.9" width="54.799999999999955" height="18" fill="#a8a8a6"/>
<circle cx="400.20000000000005" cy="578.4" r="16.2" fill="#dc88cc"/>
<circle cx="400.20000000000005" cy="578.4" r="13.6" fill="#c868b8"/>
<circle cx="400.20000000000005" cy="578.4" r="13.6" fill="url(#shade2)"/>
<circle cx="447.4" cy="578.9" r="16.4" fill="#d4d6d8" stroke="#a4a4a4" stroke-width="1"/>
<circle cx="447.4" cy="578.9" r="13.4" fill="#c8cacc"/>
<circle cx="447.4" cy="578.9" r="4.4" fill="#9a6a34"/>
<rect x="475.2" y="561.4" width="82.80000000000001" height="34.80000000000007" fill="#878787" stroke="#1a1a1a" stroke-width="1.8"/>
<rect x="489.2" y="569.8" width="54.80000000000001" height="18" fill="#a8a8a6"/>
<circle cx="491.8" cy="579.3" r="16.2" fill="#3a2a2a"/>
<circle cx="491.8" cy="579.3" r="13.6" fill="#1c0a0c"/>
<circle cx="491.8" cy="579.3" r="13.6" fill="url(#shade2)"/>
<circle cx="539.0" cy="579.8" r="16.4" fill="#d4d6d8" stroke="#a4a4a4" stroke-width="1"/>
<circle cx="539.0" cy="579.8" r="13.4" fill="#c8cacc"/>
<circle cx="539.0" cy="579.8" r="4.4" fill="#e9c28e"/>
<rect x="383.6" y="637.8" width="82.79999999999995" height="34.60000000000002" fill="#878787" stroke="#1a1a1a" stroke-width="1.8"/>
<rect x="397.6" y="646.0999999999999" width="54.799999999999955" height="18" fill="#a8a8a6"/>
<circle cx="400.20000000000005" cy="655.5999999999999" r="16.2" fill="#ecead0"/>
<circle cx="400.20000000000005" cy="655.5999999999999" r="13.6" fill="#e6e2a4"/>
<circle cx="400.20000000000005" cy="655.5999999999999" r="13.6" fill="url(#shade2)"/>
<circle cx="447.4" cy="656.0999999999999" r="16.4" fill="#d4d6d8" stroke="#a4a4a4" stroke-width="1"/>
<circle cx="447.4" cy="656.0999999999999" r="13.4" fill="#c8cacc"/>
<circle cx="447.4" cy="656.0999999999999" r="4.4" fill="#e8c898"/>
<rect x="475.2" y="637.8" width="82.80000000000001" height="34.40000000000009" fill="#878787" stroke="#1a1a1a" stroke-width="1.8"/>
<rect x="489.2" y="646.0" width="54.80000000000001" height="18" fill="#a8a8a6"/>
<circle cx="491.8" cy="655.5" r="16.2" fill="#5e5236"/>
<circle cx="491.8" cy="655.5" r="13.6" fill="#3e3212"/>
<circle cx="491.8" cy="655.5" r="13.6" fill="url(#shade2)"/>
<circle cx="539.0" cy="656.0" r="16.4" fill="#d4d6d8" stroke="#a4a4a4" stroke-width="1"/>
<circle cx="539.0" cy="656.0" r="13.4" fill="#c8cacc"/>
<circle cx="539.0" cy="656.0" r="4.4" fill="#e8c898"/>
<text stroke="#111" stroke-width="0.1" x="-0.80" y="9.60" text-anchor="start" fill="#111" style="font-size:18px;font-weight:bold;" >a</text>
<line x1="38.30" y1="25.00" x2="38.30" y2="213.15" stroke="#1a1a1a" stroke-width="1.3"/>
<line x1="34.30" y1="212.50" x2="38.30" y2="212.50" stroke="#1a1a1a" stroke-width="1.3"/>
<text stroke="#1a1a1a" stroke-width="0.1" x="33.80" y="217.50" text-anchor="end" fill="#1a1a1a" style="font-size:11.7px;" >0</text>
<line x1="34.30" y1="175.00" x2="38.30" y2="175.00" stroke="#1a1a1a" stroke-width="1.3"/>
<text stroke="#1a1a1a" stroke-width="0.1" x="33.80" y="180.00" text-anchor="end" fill="#1a1a1a" style="font-size:11.7px;" >0.1</text>
<line x1="34.30" y1="137.50" x2="38.30" y2="137.50" stroke="#1a1a1a" stroke-width="1.3"/>
<text stroke="#1a1a1a" stroke-width="0.1" x="33.80" y="142.50" text-anchor="end" fill="#1a1a1a" style="font-size:11.7px;" >0.2</text>
<line x1="34.30" y1="100.00" x2="38.30" y2="100.00" stroke="#1a1a1a" stroke-width="1.3"/>
<text stroke="#1a1a1a" stroke-width="0.1" x="33.80" y="105.00" text-anchor="end" fill="#1a1a1a" style="font-size:11.7px;" >0.3</text>
<line x1="34.30" y1="62.50" x2="38.30" y2="62.50" stroke="#1a1a1a" stroke-width="1.3"/>
<text stroke="#1a1a1a" stroke-width="0.1" x="33.80" y="67.50" text-anchor="end" fill="#1a1a1a" style="font-size:11.7px;" >0.4</text>
<line x1="34.30" y1="25.00" x2="38.30" y2="25.00" stroke="#1a1a1a" stroke-width="1.3"/>
<text stroke="#1a1a1a" stroke-width="0.1" x="33.80" y="30.00" text-anchor="end" fill="#1a1a1a" style="font-size:11.7px;" >0.5</text>
<line x1="37.70" y1="212.50" x2="337.50" y2="212.50" stroke="#1a1a1a" stroke-width="1.3"/>
<line x1="65.00" y1="212.50" x2="65.00" y2="216.40" stroke="#1a1a1a" stroke-width="1.3"/>
<text stroke="#1a1a1a" stroke-width="0.1" x="65.00" y="228.40" text-anchor="middle" fill="#1a1a1a" style="font-size:11.2px;" >3</text>
<line x1="126.50" y1="212.50" x2="126.50" y2="216.40" stroke="#1a1a1a" stroke-width="1.3"/>
<text stroke="#1a1a1a" stroke-width="0.1" x="126.50" y="228.40" text-anchor="middle" fill="#1a1a1a" style="font-size:11.2px;" >4</text>
<line x1="188.00" y1="212.50" x2="188.00" y2="216.40" stroke="#1a1a1a" stroke-width="1.3"/>
<text stroke="#1a1a1a" stroke-width="0.1" x="188.00" y="228.40" text-anchor="middle" fill="#1a1a1a" style="font-size:11.2px;" >5</text>
<line x1="249.40" y1="212.50" x2="249.40" y2="216.40" stroke="#1a1a1a" stroke-width="1.3"/>
<text stroke="#1a1a1a" stroke-width="0.1" x="249.40" y="228.40" text-anchor="middle" fill="#1a1a1a" style="font-size:11.2px;" >6</text>
<line x1="310.60" y1="212.50" x2="310.60" y2="216.40" stroke="#1a1a1a" stroke-width="1.3"/>
<text stroke="#1a1a1a" stroke-width="0.1" x="310.60" y="228.40" text-anchor="middle" fill="#1a1a1a" style="font-size:11.2px;" >7</text>
<text stroke="#1a1a1a" stroke-width="0.1" x="189.50" y="238.80" text-anchor="middle" fill="#1a1a1a" style="font-size:11.4px;" >Time (h)</text>
<text stroke="#1a1a1a" stroke-width="0.1" x="0" y="0" text-anchor="middle" fill="#1a1a1a" style="font-size:11.6px" textLength="111.3" lengthAdjust="spacingAndGlyphs" transform="translate(12.70,106.30) rotate(-90) scale(1,1.05)">Absorbance (560 nm)</text>
<circle cx="47.50" cy="33.20" r="1.7" fill="#0000ff"/>
<text stroke="#0a2eff" stroke-width="0.1" x="50.60" y="36.90" text-anchor="start" fill="#0a2eff" style="font-size:13px;" >NM</text>
<circle cx="47.50" cy="52.00" r="1.7" fill="#111"/>
<text stroke="#1a1a1a" stroke-width="0.1" x="51.80" y="56.20" text-anchor="start" fill="#1a1a1a" style="font-size:13px;" >MEL</text>
<line x1="45.90" y1="187.10" x2="61.20" y2="187.10" stroke="#0000ff" stroke-width="1.1"/>
<circle cx="53.60" cy="182.30" r="1.65" fill="#0000ff"/>
<circle cx="53.60" cy="187.10" r="1.65" fill="#0000ff"/>
<circle cx="53.60" cy="190.60" r="1.65" fill="#0000ff"/>
<line x1="68.90" y1="209.90" x2="83.90" y2="209.90" stroke="#111" stroke-width="1.1"/>
<circle cx="70.30" cy="209.90" r="1.65" fill="#111"/>
<circle cx="76.60" cy="209.70" r="1.65" fill="#111"/>
<circle cx="82.70" cy="209.90" r="1.65" fill="#111"/>
<line x1="53.40" y1="168.20" x2="76.80" y2="168.20" stroke="#444" stroke-width="1.2"/>
<line x1="62.70" y1="161.40" x2="62.70" y2="165.80" stroke="#111" stroke-width="1.3"/>
<line x1="64.61" y1="162.50" x2="60.79" y2="164.70" stroke="#111" stroke-width="1.3"/>
<line x1="64.61" y1="164.70" x2="60.79" y2="162.50" stroke="#111" stroke-width="1.3"/>
<line x1="67.30" y1="161.40" x2="67.30" y2="165.80" stroke="#111" stroke-width="1.3"/>
<line x1="69.21" y1="162.50" x2="65.39" y2="164.70" stroke="#111" stroke-width="1.3"/>
<line x1="69.21" y1="164.70" x2="65.39" y2="162.50" stroke="#111" stroke-width="1.3"/>
<line x1="107.80" y1="136.80" x2="122.90" y2="136.80" stroke="#0000ff" stroke-width="1.1"/>
<circle cx="115.00" cy="132.70" r="1.65" fill="#0000ff"/>
<circle cx="115.00" cy="136.60" r="1.65" fill="#0000ff"/>
<circle cx="115.00" cy="149.60" r="1.65" fill="#0000ff"/>
<line x1="130.40" y1="201.20" x2="145.60" y2="201.20" stroke="#111" stroke-width="1.1"/>
<circle cx="131.70" cy="202.00" r="1.65" fill="#111"/>
<circle cx="138.00" cy="200.20" r="1.65" fill="#111"/>
<circle cx="144.30" cy="201.00" r="1.65" fill="#111"/>
<line x1="115.00" y1="120.90" x2="138.50" y2="120.90" stroke="#444" stroke-width="1.2"/>
<line x1="120.00" y1="114.00" x2="120.00" y2="118.40" stroke="#111" stroke-width="1.3"/>
<line x1="121.91" y1="115.10" x2="118.09" y2="117.30" stroke="#111" stroke-width="1.3"/>
<line x1="121.91" y1="117.30" x2="118.09" y2="115.10" stroke="#111" stroke-width="1.3"/>
<line x1="124.50" y1="114.00" x2="124.50" y2="118.40" stroke="#111" stroke-width="1.3"/>
<line x1="126.41" y1="115.10" x2="122.59" y2="117.30" stroke="#111" stroke-width="1.3"/>
<line x1="126.41" y1="117.30" x2="122.59" y2="115.10" stroke="#111" stroke-width="1.3"/>
<line x1="129.10" y1="114.00" x2="129.10" y2="118.40" stroke="#111" stroke-width="1.3"/>
<line x1="131.01" y1="115.10" x2="127.19" y2="117.30" stroke="#111" stroke-width="1.3"/>
<line x1="131.01" y1="117.30" x2="127.19" y2="115.10" stroke="#111" stroke-width="1.3"/>
<line x1="133.70" y1="114.00" x2="133.70" y2="118.40" stroke="#111" stroke-width="1.3"/>
<line x1="135.61" y1="115.10" x2="131.79" y2="117.30" stroke="#111" stroke-width="1.3"/>
<line x1="135.61" y1="117.30" x2="131.79" y2="115.10" stroke="#111" stroke-width="1.3"/>
<line x1="169.20" y1="97.20" x2="184.00" y2="97.20" stroke="#0000ff" stroke-width="1.1"/>
<circle cx="173.30" cy="95.70" r="1.65" fill="#0000ff"/>
<circle cx="176.50" cy="101.00" r="1.65" fill="#0000ff"/>
<circle cx="179.60" cy="97.20" r="1.65" fill="#0000ff"/>
<line x1="192.20" y1="191.50" x2="207.30" y2="191.50" stroke="#111" stroke-width="1.1"/>
<circle cx="196.40" cy="188.20" r="1.65" fill="#111"/>
<circle cx="196.40" cy="191.80" r="1.65" fill="#111"/>
<circle cx="202.20" cy="191.50" r="1.65" fill="#111"/>
<line x1="176.00" y1="80.40" x2="199.90" y2="80.40" stroke="#444" stroke-width="1.2"/>
<line x1="181.20" y1="73.20" x2="181.20" y2="77.60" stroke="#111" stroke-width="1.3"/>
<line x1="183.11" y1="74.30" x2="179.29" y2="76.50" stroke="#111" stroke-width="1.3"/>
<line x1="183.11" y1="76.50" x2="179.29" y2="74.30" stroke="#111" stroke-width="1.3"/>
<line x1="185.50" y1="73.20" x2="185.50" y2="77.60" stroke="#111" stroke-width="1.3"/>
<line x1="187.41" y1="74.30" x2="183.59" y2="76.50" stroke="#111" stroke-width="1.3"/>
<line x1="187.41" y1="76.50" x2="183.59" y2="74.30" stroke="#111" stroke-width="1.3"/>
<line x1="190.10" y1="73.20" x2="190.10" y2="77.60" stroke="#111" stroke-width="1.3"/>
<line x1="192.01" y1="74.30" x2="188.19" y2="76.50" stroke="#111" stroke-width="1.3"/>
<line x1="192.01" y1="76.50" x2="188.19" y2="74.30" stroke="#111" stroke-width="1.3"/>
<line x1="194.70" y1="73.20" x2="194.70" y2="77.60" stroke="#111" stroke-width="1.3"/>
<line x1="196.61" y1="74.30" x2="192.79" y2="76.50" stroke="#111" stroke-width="1.3"/>
<line x1="196.61" y1="76.50" x2="192.79" y2="74.30" stroke="#111" stroke-width="1.3"/>
<line x1="230.40" y1="99.50" x2="245.50" y2="99.50" stroke="#0000ff" stroke-width="1.1"/>
<circle cx="238.00" cy="74.80" r="1.65" fill="#0000ff"/>
<circle cx="238.00" cy="99.50" r="1.65" fill="#0000ff"/>
<circle cx="238.00" cy="105.50" r="1.65" fill="#0000ff"/>
<line x1="253.60" y1="172.90" x2="268.70" y2="172.90" stroke="#111" stroke-width="1.1"/>
<circle cx="260.90" cy="164.00" r="1.65" fill="#111"/>
<circle cx="260.90" cy="172.90" r="1.65" fill="#111"/>
<circle cx="260.90" cy="179.20" r="1.65" fill="#111"/>
<line x1="237.50" y1="63.20" x2="261.20" y2="63.20" stroke="#444" stroke-width="1.2"/>
<line x1="242.80" y1="56.10" x2="242.80" y2="60.50" stroke="#111" stroke-width="1.3"/>
<line x1="244.71" y1="57.20" x2="240.89" y2="59.40" stroke="#111" stroke-width="1.3"/>
<line x1="244.71" y1="59.40" x2="240.89" y2="57.20" stroke="#111" stroke-width="1.3"/>
<line x1="247.30" y1="56.10" x2="247.30" y2="60.50" stroke="#111" stroke-width="1.3"/>
<line x1="249.21" y1="57.20" x2="245.39" y2="59.40" stroke="#111" stroke-width="1.3"/>
<line x1="249.21" y1="59.40" x2="245.39" y2="57.20" stroke="#111" stroke-width="1.3"/>
<line x1="251.80" y1="56.10" x2="251.80" y2="60.50" stroke="#111" stroke-width="1.3"/>
<line x1="253.71" y1="57.20" x2="249.89" y2="59.40" stroke="#111" stroke-width="1.3"/>
<line x1="253.71" y1="59.40" x2="249.89" y2="57.20" stroke="#111" stroke-width="1.3"/>
<line x1="256.40" y1="56.10" x2="256.40" y2="60.50" stroke="#111" stroke-width="1.3"/>
<line x1="258.31" y1="57.20" x2="254.49" y2="59.40" stroke="#111" stroke-width="1.3"/>
<line x1="258.31" y1="59.40" x2="254.49" y2="57.20" stroke="#111" stroke-width="1.3"/>
<line x1="291.90" y1="58.70" x2="307.20" y2="58.70" stroke="#0000ff" stroke-width="1.1"/>
<circle cx="299.40" cy="49.10" r="1.65" fill="#0000ff"/>
<circle cx="299.40" cy="58.70" r="1.65" fill="#0000ff"/>
<circle cx="299.40" cy="66.70" r="1.65" fill="#0000ff"/>
<line x1="314.80" y1="165.60" x2="329.90" y2="165.60" stroke="#111" stroke-width="1.1"/>
<circle cx="322.40" cy="158.50" r="1.65" fill="#111"/>
<circle cx="319.60" cy="167.80" r="1.65" fill="#111"/>
<circle cx="325.60" cy="165.60" r="1.65" fill="#111"/>
<line x1="299.20" y1="40.30" x2="322.60" y2="40.30" stroke="#444" stroke-width="1.2"/>
<line x1="304.20" y1="33.10" x2="304.20" y2="37.50" stroke="#111" stroke-width="1.3"/>
<line x1="306.11" y1="34.20" x2="302.29" y2="36.40" stroke="#111" stroke-width="1.3"/>
<line x1="306.11" y1="36.40" x2="302.29" y2="34.20" stroke="#111" stroke-width="1.3"/>
<line x1="308.70" y1="33.10" x2="308.70" y2="37.50" stroke="#111" stroke-width="1.3"/>
<line x1="310.61" y1="34.20" x2="306.79" y2="36.40" stroke="#111" stroke-width="1.3"/>
<line x1="310.61" y1="36.40" x2="306.79" y2="34.20" stroke="#111" stroke-width="1.3"/>
<line x1="313.20" y1="33.10" x2="313.20" y2="37.50" stroke="#111" stroke-width="1.3"/>
<line x1="315.11" y1="34.20" x2="311.29" y2="36.40" stroke="#111" stroke-width="1.3"/>
<line x1="315.11" y1="36.40" x2="311.29" y2="34.20" stroke="#111" stroke-width="1.3"/>
<line x1="317.80" y1="33.10" x2="317.80" y2="37.50" stroke="#111" stroke-width="1.3"/>
<line x1="319.71" y1="34.20" x2="315.89" y2="36.40" stroke="#111" stroke-width="1.3"/>
<line x1="319.71" y1="36.40" x2="315.89" y2="34.20" stroke="#111" stroke-width="1.3"/>
<line x1="384.20" y1="27.50" x2="384.20" y2="215.85" stroke="#1a1a1a" stroke-width="1.3"/>
<line x1="380.20" y1="215.20" x2="384.20" y2="215.20" stroke="#1a1a1a" stroke-width="1.3"/>
<text stroke="#1a1a1a" stroke-width="0.1" x="379.40" y="220.20" text-anchor="end" fill="#1a1a1a" style="font-size:11.7px;" >0</text>
<line x1="380.20" y1="181.20" x2="384.20" y2="181.20" stroke="#1a1a1a" stroke-width="1.3"/>
<text stroke="#1a1a1a" stroke-width="0.1" x="379.40" y="186.20" text-anchor="end" fill="#1a1a1a" style="font-size:11.7px;" >2</text>
<line x1="380.20" y1="147.20" x2="384.20" y2="147.20" stroke="#1a1a1a" stroke-width="1.3"/>
<text stroke="#1a1a1a" stroke-width="0.1" x="379.40" y="152.20" text-anchor="end" fill="#1a1a1a" style="font-size:11.7px;" >4</text>
<line x1="380.20" y1="113.20" x2="384.20" y2="113.20" stroke="#1a1a1a" stroke-width="1.3"/>
<text stroke="#1a1a1a" stroke-width="0.1" x="379.40" y="118.20" text-anchor="end" fill="#1a1a1a" style="font-size:11.7px;" >6</text>
<line x1="380.20" y1="79.20" x2="384.20" y2="79.20" stroke="#1a1a1a" stroke-width="1.3"/>
<text stroke="#1a1a1a" stroke-width="0.1" x="379.40" y="84.20" text-anchor="end" fill="#1a1a1a" style="font-size:11.7px;" >8</text>
<line x1="380.20" y1="45.20" x2="384.20" y2="45.20" stroke="#1a1a1a" stroke-width="1.3"/>
<text stroke="#1a1a1a" stroke-width="0.1" x="379.40" y="50.20" text-anchor="end" fill="#1a1a1a" style="font-size:11.7px;" >10</text>
<line x1="383.60" y1="215.20" x2="478.20" y2="215.20" stroke="#1a1a1a" stroke-width="1.3"/>
<text stroke="#0a2eff" stroke-width="0.1" x="409.70" y="230.40" text-anchor="middle" fill="#0a2eff" style="font-size:13px;" >NM</text>
<text stroke="#1a1a1a" stroke-width="0.1" x="451.60" y="230.40" text-anchor="middle" fill="#1a1a1a" style="font-size:13px;" >MEL</text>
<text stroke="#1a1a1a" stroke-width="0.1" x="0" y="0" text-anchor="middle" fill="#1a1a1a" style="font-size:11.6px" textLength="78.7" lengthAdjust="spacingAndGlyphs" transform="translate(365.70,106.40) rotate(-90) scale(1,1.06)">CFU/mL (x 10<tspan dy="-3.6" style="font-size:7.2px">7</tspan><tspan dy="3.6">)</tspan></text>
<line x1="397.50" y1="71.70" x2="424.70" y2="71.70" stroke="#0000ff" stroke-width="1.1"/>
<circle cx="411.00" cy="54.60" r="1.65" fill="#0000ff"/>
<circle cx="411.00" cy="71.70" r="1.65" fill="#0000ff"/>
<circle cx="411.00" cy="90.60" r="1.65" fill="#0000ff"/>
<line x1="437.90" y1="56.20" x2="464.80" y2="56.20" stroke="#111" stroke-width="1.1"/>
<circle cx="451.40" cy="44.50" r="1.65" fill="#111"/>
<circle cx="451.40" cy="56.20" r="1.65" fill="#111"/>
<circle cx="451.40" cy="112.70" r="1.65" fill="#111"/>
<path d="M411,45.4 V32.4 H451.4 V37.6" fill="none" stroke="#333" stroke-width="1.2"/>
<text stroke="#1a1a1a" stroke-width="0.1" x="432.00" y="29.60" text-anchor="middle" fill="#1a1a1a" style="font-size:12.5px;" >ns</text>
<text stroke="#111" stroke-width="0.1" x="547.00" y="27.60" text-anchor="start" fill="#111" style="font-size:18px;font-weight:bold;" >b</text>
<line x1="600.90" y1="31.20" x2="600.90" y2="216.25" stroke="#1a1a1a" stroke-width="1.3"/>
<line x1="597.30" y1="215.60" x2="600.90" y2="215.60" stroke="#1a1a1a" stroke-width="1.3"/>
<text stroke="#1a1a1a" stroke-width="0.1" x="594.80" y="220.60" text-anchor="end" fill="#1a1a1a" style="font-size:11.7px;" >0</text>
<line x1="597.30" y1="169.65" x2="600.90" y2="169.65" stroke="#1a1a1a" stroke-width="1.3"/>
<text stroke="#1a1a1a" stroke-width="0.1" x="594.80" y="174.65" text-anchor="end" fill="#1a1a1a" style="font-size:11.7px;" >0.5</text>
<line x1="597.30" y1="123.70" x2="600.90" y2="123.70" stroke="#1a1a1a" stroke-width="1.3"/>
<text stroke="#1a1a1a" stroke-width="0.1" x="594.80" y="128.70" text-anchor="end" fill="#1a1a1a" style="font-size:11.7px;" >1.0</text>
<line x1="597.30" y1="77.75" x2="600.90" y2="77.75" stroke="#1a1a1a" stroke-width="1.3"/>
<text stroke="#1a1a1a" stroke-width="0.1" x="594.80" y="82.75" text-anchor="end" fill="#1a1a1a" style="font-size:11.7px;" >1.5</text>
<line x1="597.30" y1="31.80" x2="600.90" y2="31.80" stroke="#1a1a1a" stroke-width="1.3"/>
<text stroke="#1a1a1a" stroke-width="0.1" x="594.80" y="36.80" text-anchor="end" fill="#1a1a1a" style="font-size:11.7px;" >2.0</text>
<line x1="600.30" y1="215.60" x2="693.00" y2="215.60" stroke="#1a1a1a" stroke-width="1.3"/>
<text stroke="#0a2eff" stroke-width="0.1" x="626.70" y="231.00" text-anchor="middle" fill="#0a2eff" style="font-size:13px;" >NM</text>
<text stroke="#1a1a1a" stroke-width="0.1" x="668.70" y="231.00" text-anchor="middle" fill="#1a1a1a" style="font-size:13px;" >MEL</text>
<text stroke="#1a1a1a" stroke-width="0.1" x="0" y="0" text-anchor="middle" fill="#1a1a1a" style="font-size:11.6px" textLength="133.0" lengthAdjust="spacingAndGlyphs" transform="translate(572.90,120.55) rotate(-90) scale(1,1.0)">DPH Fluorescence (x 10<tspan dy="-3.6" style="font-size:7.2px">6</tspan><tspan dy="3.6">)</tspan></text>
<line x1="614.20" y1="80.50" x2="639.90" y2="80.50" stroke="#0000ff" stroke-width="1.1"/>
<circle cx="624.00" cy="75.30" r="1.65" fill="#0000ff"/>
<circle cx="630.10" cy="77.30" r="1.65" fill="#0000ff"/>
<circle cx="627.10" cy="80.50" r="1.65" fill="#0000ff"/>
<circle cx="627.10" cy="85.10" r="1.65" fill="#0000ff"/>
<circle cx="627.10" cy="89.70" r="1.65" fill="#0000ff"/>
<line x1="653.50" y1="147.30" x2="679.90" y2="147.30" stroke="#111" stroke-width="1.1"/>
<circle cx="654.70" cy="147.60" r="1.65" fill="#111"/>
<circle cx="660.50" cy="145.30" r="1.65" fill="#111"/>
<circle cx="666.50" cy="147.30" r="1.65" fill="#111"/>
<circle cx="672.30" cy="146.10" r="1.65" fill="#111"/>
<circle cx="678.10" cy="148.30" r="1.65" fill="#111"/>
<path d="M626.9,70.7 V64.4 H666.4 V139.5" fill="none" stroke="#333" stroke-width="1.2"/>
<polygon points="638.40,55.15 639.18,56.73 640.92,56.98 639.66,58.21 639.96,59.94 638.40,59.12 636.84,59.94 637.14,58.21 635.88,56.98 637.62,56.73" fill="#2a2a2a"/>
<polygon points="644.10,55.15 644.88,56.73 646.62,56.98 645.36,58.21 645.66,59.94 644.10,59.12 642.54,59.94 642.84,58.21 641.58,56.98 643.32,56.73" fill="#2a2a2a"/>
<polygon points="649.90,55.15 650.68,56.73 652.42,56.98 651.16,58.21 651.46,59.94 649.90,59.12 648.34,59.94 648.64,58.21 647.38,56.98 649.12,56.73" fill="#2a2a2a"/>
<polygon points="655.40,55.15 656.18,56.73 657.92,56.98 656.66,58.21 656.96,59.94 655.40,59.12 653.84,59.94 654.14,58.21 652.88,56.98 654.62,56.73" fill="#2a2a2a"/>
<text stroke="#111" stroke-width="0.1" x="-0.50" y="261.40" text-anchor="start" fill="#111" style="font-size:18px;font-weight:bold;" >c</text>
<line x1="39.20" y1="268.70" x2="39.20" y2="455.75" stroke="#6e6e6e" stroke-width="1.3"/>
<line x1="35.40" y1="455.10" x2="39.20" y2="455.10" stroke="#6e6e6e" stroke-width="1.3"/>
<text stroke="#1a1a1a" stroke-width="0.1" x="33.40" y="460.10" text-anchor="end" fill="#1a1a1a" style="font-size:11.5px;" >0</text>
<line x1="35.40" y1="408.50" x2="39.20" y2="408.50" stroke="#6e6e6e" stroke-width="1.3"/>
<text stroke="#1a1a1a" stroke-width="0.1" x="33.40" y="413.50" text-anchor="end" fill="#1a1a1a" style="font-size:11.5px;" >1</text>
<line x1="35.40" y1="361.90" x2="39.20" y2="361.90" stroke="#6e6e6e" stroke-width="1.3"/>
<text stroke="#1a1a1a" stroke-width="0.1" x="33.40" y="366.90" text-anchor="end" fill="#1a1a1a" style="font-size:11.5px;" >2</text>
<line x1="35.40" y1="315.30" x2="39.20" y2="315.30" stroke="#6e6e6e" stroke-width="1.3"/>
<text stroke="#1a1a1a" stroke-width="0.1" x="33.40" y="320.30" text-anchor="end" fill="#1a1a1a" style="font-size:11.5px;" >3</text>
<line x1="35.40" y1="268.70" x2="39.20" y2="268.70" stroke="#6e6e6e" stroke-width="1.3"/>
<text stroke="#1a1a1a" stroke-width="0.1" x="33.40" y="273.70" text-anchor="end" fill="#1a1a1a" style="font-size:11.5px;" >4</text>
<line x1="35.40" y1="455.10" x2="226.00" y2="455.10" stroke="#444" stroke-width="1.3"/>
<text stroke="#1a1a1a" stroke-width="0.1" x="0" y="0" text-anchor="middle" fill="#1a1a1a" style="font-size:11.6px" textLength="119.3" lengthAdjust="spacingAndGlyphs" transform="translate(21.10,368.50) rotate(-90) scale(1,1.0)">Number of Cells (x 10<tspan dy="-3.6" style="font-size:7.2px">9</tspan><tspan dy="3.6">)</tspan></text>
<text stroke="#0a2eff" stroke-width="0.1" x="68.50" y="468.60" text-anchor="middle" fill="#0a2eff" style="font-size:13px;" >MM</text>
<text stroke="#1a1a1a" stroke-width="0.1" x="110.20" y="468.60" text-anchor="middle" fill="#1a1a1a" style="font-size:13px;" >DA</text>
<line x1="46.50" y1="471.80" x2="126.80" y2="471.80" stroke="#555" stroke-width="1.2"/>
<text stroke="#1a1a1a" stroke-width="0.1" x="91.20" y="483.80" text-anchor="middle" fill="#1a1a1a" style="font-size:13px;" >WT</text>
<text stroke="#0a2eff" stroke-width="0.1" x="161.20" y="468.60" text-anchor="middle" fill="#0a2eff" style="font-size:13px;" >MM</text>
<text stroke="#1a1a1a" stroke-width="0.1" x="202.50" y="468.60" text-anchor="middle" fill="#1a1a1a" style="font-size:13px;" >DA</text>
<line x1="142.30" y1="471.80" x2="222.40" y2="471.80" stroke="#555" stroke-width="1.2"/>
<text stroke="#9a3cf0" stroke-width="0.1" x="183.00" y="483.80" text-anchor="middle" fill="#9a3cf0" style="font-size:13px;" ><tspan style="font-style:italic">lac1Δ</tspan></text>
<line x1="53.30" y1="308.00" x2="81.80" y2="308.00" stroke="#0000ff" stroke-width="1.1"/>
<circle cx="67.60" cy="288.50" r="1.65" fill="#0000ff"/>
<circle cx="63.90" cy="309.50" r="1.65" fill="#0000ff"/>
<circle cx="71.50" cy="308.20" r="1.65" fill="#0000ff"/>
<line x1="96.60" y1="316.40" x2="125.10" y2="316.40" stroke="#111" stroke-width="1.1"/>
<circle cx="111.00" cy="302.30" r="1.65" fill="#111"/>
<circle cx="111.00" cy="316.40" r="1.65" fill="#111"/>
<circle cx="111.00" cy="324.70" r="1.65" fill="#111"/>
<line x1="139.00" y1="312.10" x2="168.10" y2="312.10" stroke="#0000ff" stroke-width="1.1"/>
<circle cx="153.50" cy="306.50" r="1.65" fill="#0000ff"/>
<circle cx="153.50" cy="312.10" r="1.65" fill="#0000ff"/>
<circle cx="153.50" cy="330.30" r="1.65" fill="#0000ff"/>
<line x1="183.00" y1="319.40" x2="211.80" y2="319.40" stroke="#111" stroke-width="1.1"/>
<circle cx="197.20" cy="290.00" r="1.65" fill="#111"/>
<circle cx="197.20" cy="319.40" r="1.65" fill="#111"/>
<circle cx="197.20" cy="375.30" r="1.65" fill="#111"/>
<path d="M67.6,280.7 V275.0 H111 V289.8" fill="none" stroke="#666" stroke-width="1.3"/>
<text stroke="#1a1a1a" stroke-width="0.1" x="87.80" y="271.00" text-anchor="middle" fill="#1a1a1a" style="font-size:12.5px;" >ns</text>
<path d="M153.5,297.9 V275.0 H197.2 V282.4" fill="none" stroke="#666" stroke-width="1.3"/>
<text stroke="#1a1a1a" stroke-width="0.1" x="174.70" y="271.00" text-anchor="middle" fill="#1a1a1a" style="font-size:12.5px;" >ns</text>
<line x1="273.80" y1="269.80" x2="273.80" y2="455.85" stroke="#6e6e6e" stroke-width="1.3"/>
<line x1="270.50" y1="455.20" x2="273.80" y2="455.20" stroke="#6e6e6e" stroke-width="1.3"/>
<text stroke="#1a1a1a" stroke-width="0.1" x="267.40" y="460.20" text-anchor="end" fill="#1a1a1a" style="font-size:11.3px;" >0</text>
<line x1="270.50" y1="424.30" x2="273.80" y2="424.30" stroke="#6e6e6e" stroke-width="1.3"/>
<text stroke="#1a1a1a" stroke-width="0.1" x="267.40" y="429.30" text-anchor="end" fill="#1a1a1a" style="font-size:11.3px;" >0.2</text>
<line x1="270.50" y1="393.40" x2="273.80" y2="393.40" stroke="#6e6e6e" stroke-width="1.3"/>
<text stroke="#1a1a1a" stroke-width="0.1" x="267.40" y="398.40" text-anchor="end" fill="#1a1a1a" style="font-size:11.3px;" >0.4</text>
<line x1="270.50" y1="362.50" x2="273.80" y2="362.50" stroke="#6e6e6e" stroke-width="1.3"/>
<text stroke="#1a1a1a" stroke-width="0.1" x="267.40" y="367.50" text-anchor="end" fill="#1a1a1a" style="font-size:11.3px;" >0.6</text>
<line x1="270.50" y1="331.60" x2="273.80" y2="331.60" stroke="#6e6e6e" stroke-width="1.3"/>
<text stroke="#1a1a1a" stroke-width="0.1" x="267.40" y="336.60" text-anchor="end" fill="#1a1a1a" style="font-size:11.3px;" >0.8</text>
<line x1="270.50" y1="300.70" x2="273.80" y2="300.70" stroke="#6e6e6e" stroke-width="1.3"/>
<text stroke="#1a1a1a" stroke-width="0.1" x="267.40" y="305.70" text-anchor="end" fill="#1a1a1a" style="font-size:11.3px;" >1.0</text>
<line x1="270.50" y1="269.80" x2="273.80" y2="269.80" stroke="#6e6e6e" stroke-width="1.3"/>
<text stroke="#1a1a1a" stroke-width="0.1" x="267.40" y="274.80" text-anchor="end" fill="#1a1a1a" style="font-size:11.3px;" >1.2</text>
<line x1="270.50" y1="455.20" x2="460.90" y2="455.20" stroke="#444" stroke-width="1.3"/>
<text stroke="#1a1a1a" stroke-width="0.1" x="0" y="0" text-anchor="middle" fill="#1a1a1a" style="font-size:11.6px" textLength="95.1" lengthAdjust="spacingAndGlyphs" transform="translate(244.90,359.20) rotate(-90) scale(1,1.05)">Ergosterol (<tspan style="font-style:italic">μ</tspan>g/mL)</text>
<text stroke="#0a2eff" stroke-width="0.1" x="302.50" y="468.60" text-anchor="middle" fill="#0a2eff" style="font-size:13px;" >MM</text>
<text stroke="#1a1a1a" stroke-width="0.1" x="344.20" y="468.60" text-anchor="middle" fill="#1a1a1a" style="font-size:13px;" >DA</text>
<line x1="281.30" y1="471.80" x2="361.70" y2="471.80" stroke="#555" stroke-width="1.2"/>
<text stroke="#1a1a1a" stroke-width="0.1" x="321.00" y="483.80" text-anchor="middle" fill="#1a1a1a" style="font-size:13px;" >WT</text>
<text stroke="#0a2eff" stroke-width="0.1" x="390.50" y="468.60" text-anchor="middle" fill="#0a2eff" style="font-size:13px;" >MM</text>
<text stroke="#1a1a1a" stroke-width="0.1" x="432.20" y="468.60" text-anchor="middle" fill="#1a1a1a" style="font-size:13px;" >DA</text>
<line x1="373.30" y1="471.80" x2="453.70" y2="471.80" stroke="#555" stroke-width="1.2"/>
<text stroke="#9a3cf0" stroke-width="0.1" x="413.00" y="483.80" text-anchor="middle" fill="#9a3cf0" style="font-size:13px;" ><tspan style="font-style:italic">lac1Δ</tspan></text>
<line x1="287.90" y1="369.70" x2="316.70" y2="369.70" stroke="#0000ff" stroke-width="1.1"/>
<circle cx="302.10" cy="364.80" r="1.65" fill="#0000ff"/>
<circle cx="298.50" cy="372.70" r="1.65" fill="#0000ff"/>
<circle cx="306.40" cy="369.70" r="1.65" fill="#0000ff"/>
<line x1="331.00" y1="439.60" x2="360.00" y2="439.60" stroke="#111" stroke-width="1.1"/>
<circle cx="338.20" cy="440.60" r="1.65" fill="#111"/>
<circle cx="345.80" cy="438.90" r="1.65" fill="#111"/>
<circle cx="353.40" cy="439.60" r="1.65" fill="#111"/>
<line x1="374.60" y1="339.30" x2="403.10" y2="339.30" stroke="#0000ff" stroke-width="1.1"/>
<circle cx="388.80" cy="328.70" r="1.65" fill="#0000ff"/>
<circle cx="388.80" cy="339.30" r="1.65" fill="#0000ff"/>
<circle cx="388.80" cy="362.40" r="1.65" fill="#0000ff"/>
<line x1="417.60" y1="325.00" x2="446.70" y2="325.00" stroke="#111" stroke-width="1.1"/>
<circle cx="431.90" cy="297.90" r="1.65" fill="#111"/>
<circle cx="431.90" cy="325.00" r="1.65" fill="#111"/>
<circle cx="431.90" cy="338.30" r="1.65" fill="#111"/>
<path d="M302.8,350.7 V343.1 H345.4 V429.0" fill="none" stroke="#666" stroke-width="1.3"/>
<polygon points="316.70,333.65 317.48,335.23 319.22,335.48 317.96,336.71 318.26,338.44 316.70,337.62 315.14,338.44 315.44,336.71 314.18,335.48 315.92,335.23" fill="#2a2a2a"/>
<polygon points="322.20,333.65 322.98,335.23 324.72,335.48 323.46,336.71 323.76,338.44 322.20,337.62 320.64,338.44 320.94,336.71 319.68,335.48 321.42,335.23" fill="#2a2a2a"/>
<polygon points="328.10,333.65 328.88,335.23 330.62,335.48 329.36,336.71 329.66,338.44 328.10,337.62 326.54,338.44 326.84,336.71 325.58,335.48 327.32,335.23" fill="#2a2a2a"/>
<polygon points="333.80,333.65 334.58,335.23 336.32,335.48 335.06,336.71 335.36,338.44 333.80,337.62 332.24,338.44 332.54,336.71 331.28,335.48 333.02,335.23" fill="#2a2a2a"/>
<path d="M388.8,324.4 V285.7 H431.9 V291.3" fill="none" stroke="#666" stroke-width="1.3"/>
<text stroke="#1a1a1a" stroke-width="0.1" x="409.70" y="282.60" text-anchor="middle" fill="#1a1a1a" style="font-size:12.5px;" >ns</text>
<line x1="505.30" y1="268.70" x2="505.30" y2="455.85" stroke="#555" stroke-width="1.3"/>
<line x1="501.40" y1="455.20" x2="505.30" y2="455.20" stroke="#555" stroke-width="1.3"/>
<text stroke="#1a1a1a" stroke-width="0.1" x="498.20" y="460.20" text-anchor="end" fill="#1a1a1a" style="font-size:12.0px;" >0</text>
<line x1="501.40" y1="417.90" x2="505.30" y2="417.90" stroke="#555" stroke-width="1.3"/>
<text stroke="#1a1a1a" stroke-width="0.1" x="498.20" y="422.90" text-anchor="end" fill="#1a1a1a" style="font-size:12.0px;" >10</text>
<line x1="501.40" y1="380.60" x2="505.30" y2="380.60" stroke="#555" stroke-width="1.3"/>
<text stroke="#1a1a1a" stroke-width="0.1" x="498.20" y="385.60" text-anchor="end" fill="#1a1a1a" style="font-size:12.0px;" >20</text>
<line x1="501.40" y1="343.30" x2="505.30" y2="343.30" stroke="#555" stroke-width="1.3"/>
<text stroke="#1a1a1a" stroke-width="0.1" x="498.20" y="348.30" text-anchor="end" fill="#1a1a1a" style="font-size:12.0px;" >30</text>
<line x1="501.40" y1="306.00" x2="505.30" y2="306.00" stroke="#555" stroke-width="1.3"/>
<text stroke="#1a1a1a" stroke-width="0.1" x="498.20" y="311.00" text-anchor="end" fill="#1a1a1a" style="font-size:12.0px;" >40</text>
<line x1="501.40" y1="268.70" x2="505.30" y2="268.70" stroke="#555" stroke-width="1.3"/>
<text stroke="#1a1a1a" stroke-width="0.1" x="498.20" y="273.70" text-anchor="end" fill="#1a1a1a" style="font-size:12.0px;" >50</text>
<line x1="501.40" y1="455.20" x2="693.30" y2="455.20" stroke="#444" stroke-width="1.3"/>
<text stroke="#1a1a1a" stroke-width="0.1" x="0" y="0" text-anchor="middle" fill="#1a1a1a" style="font-size:11.6px" textLength="121.2" lengthAdjust="spacingAndGlyphs" transform="translate(480.90,368.35) rotate(-90) scale(1,1.08)">Urease Activity (units/L)</text>
<text stroke="#0a2eff" stroke-width="0.1" x="533.70" y="468.60" text-anchor="middle" fill="#0a2eff" style="font-size:13px;" >MM</text>
<text stroke="#1a1a1a" stroke-width="0.1" x="575.70" y="468.60" text-anchor="middle" fill="#1a1a1a" style="font-size:13px;" >DA</text>
<line x1="515.80" y1="471.80" x2="597.00" y2="471.80" stroke="#555" stroke-width="1.2"/>
<text stroke="#1a1a1a" stroke-width="0.1" x="552.30" y="483.80" text-anchor="middle" fill="#1a1a1a" style="font-size:13px;" >WT</text>
<text stroke="#0a2eff" stroke-width="0.1" x="623.00" y="468.60" text-anchor="middle" fill="#0a2eff" style="font-size:13px;" >MM</text>
<text stroke="#1a1a1a" stroke-width="0.1" x="665.00" y="468.60" text-anchor="middle" fill="#1a1a1a" style="font-size:13px;" >DA</text>
<line x1="605.40" y1="471.80" x2="685.90" y2="471.80" stroke="#555" stroke-width="1.2"/>
<text stroke="#9a3cf0" stroke-width="0.1" x="645.30" y="483.80" text-anchor="middle" fill="#9a3cf0" style="font-size:13px;" ><tspan style="font-style:italic">lac1Δ</tspan></text>
<line x1="519.20" y1="328.30" x2="548.60" y2="328.30" stroke="#0000ff" stroke-width="1.1"/>
<circle cx="533.70" cy="312.70" r="1.65" fill="#0000ff"/>
<circle cx="533.70" cy="328.30" r="1.65" fill="#0000ff"/>
<circle cx="533.70" cy="362.10" r="1.65" fill="#0000ff"/>
<line x1="563.10" y1="407.10" x2="591.20" y2="407.10" stroke="#111" stroke-width="1.1"/>
<circle cx="573.30" cy="404.70" r="1.65" fill="#111"/>
<circle cx="580.70" cy="407.10" r="1.65" fill="#111"/>
<circle cx="577.00" cy="414.20" r="1.65" fill="#111"/>
<line x1="606.10" y1="356.70" x2="635.20" y2="356.70" stroke="#0000ff" stroke-width="1.1"/>
<circle cx="620.30" cy="341.50" r="1.65" fill="#0000ff"/>
<circle cx="620.30" cy="356.70" r="1.65" fill="#0000ff"/>
<circle cx="620.30" cy="386.80" r="1.65" fill="#0000ff"/>
<line x1="648.40" y1="374.30" x2="678.10" y2="374.30" stroke="#111" stroke-width="1.1"/>
<circle cx="663.20" cy="356.30" r="1.65" fill="#111"/>
<circle cx="663.20" cy="374.30" r="1.65" fill="#111"/>
<circle cx="663.20" cy="407.10" r="1.65" fill="#111"/>
<path d="M533.7,300.9 V290.7 H577.3 V395.6" fill="none" stroke="#666" stroke-width="1.3"/>
<polygon points="551.50,281.85 552.28,283.43 554.02,283.68 552.76,284.91 553.06,286.64 551.50,285.82 549.94,286.64 550.24,284.91 548.98,283.68 550.72,283.43" fill="#2a2a2a"/>
<polygon points="557.20,281.85 557.98,283.43 559.72,283.68 558.46,284.91 558.76,286.64 557.20,285.82 555.64,286.64 555.94,284.91 554.68,283.68 556.42,283.43" fill="#2a2a2a"/>
<path d="M620.3,328.6 V311.0 H663.2 V341.5" fill="none" stroke="#666" stroke-width="1.3"/>
<text stroke="#1a1a1a" stroke-width="0.1" x="639.60" y="307.90" text-anchor="middle" fill="#1a1a1a" style="font-size:12.5px;" >ns</text>
<text stroke="#111" stroke-width="0.1" x="-1.00" y="507.70" text-anchor="start" fill="#111" style="font-size:18px;font-weight:bold;" >d</text>
<text stroke="#0a2eff" stroke-width="0.1" x="16.90" y="535.60" text-anchor="middle" fill="#0a2eff" style="font-size:13px;" >NM</text>
<text stroke="#1a1a1a" stroke-width="0.1" x="135.00" y="535.60" text-anchor="middle" fill="#1a1a1a" style="font-size:13px;" >MEL</text>
<line x1="278.50" y1="521.20" x2="278.50" y2="708.25" stroke="#333" stroke-width="1.3"/>
<line x1="275.20" y1="707.60" x2="278.50" y2="707.60" stroke="#333" stroke-width="1.3"/>
<text stroke="#1a1a1a" stroke-width="0.1" x="272.90" y="712.60" text-anchor="end" fill="#1a1a1a" style="font-size:11.8px;" >0</text>
<line x1="275.20" y1="661.00" x2="278.50" y2="661.00" stroke="#333" stroke-width="1.3"/>
<text stroke="#1a1a1a" stroke-width="0.1" x="272.90" y="666.00" text-anchor="end" fill="#1a1a1a" style="font-size:11.8px;" >0.2</text>
<line x1="275.20" y1="614.40" x2="278.50" y2="614.40" stroke="#333" stroke-width="1.3"/>
<text stroke="#1a1a1a" stroke-width="0.1" x="272.90" y="619.40" text-anchor="end" fill="#1a1a1a" style="font-size:11.8px;" >0.4</text>
<line x1="275.20" y1="567.80" x2="278.50" y2="567.80" stroke="#333" stroke-width="1.3"/>
<text stroke="#1a1a1a" stroke-width="0.1" x="272.90" y="572.80" text-anchor="end" fill="#1a1a1a" style="font-size:11.8px;" >0.6</text>
<line x1="275.20" y1="521.20" x2="278.50" y2="521.20" stroke="#333" stroke-width="1.3"/>
<text stroke="#1a1a1a" stroke-width="0.1" x="272.90" y="526.20" text-anchor="end" fill="#1a1a1a" style="font-size:11.8px;" >0.8</text>
<line x1="277.90" y1="707.60" x2="372.00" y2="707.60" stroke="#333" stroke-width="1.3"/>
<text stroke="#0a2eff" stroke-width="0.1" x="301.60" y="722.00" text-anchor="middle" fill="#0a2eff" style="font-size:13px;" >NM</text>
<text stroke="#1a1a1a" stroke-width="0.1" x="347.00" y="722.00" text-anchor="middle" fill="#1a1a1a" style="font-size:13px;" >MEL</text>
<text stroke="#1a1a1a" stroke-width="0.1" x="0" y="0" text-anchor="middle" fill="#1a1a1a" style="font-size:11.6px" textLength="110.9" lengthAdjust="spacingAndGlyphs" transform="translate(251.80,612.70) rotate(-90) scale(1,1.05)">Absorbance (560 nm)</text>
<line x1="286.20" y1="541.20" x2="317.50" y2="541.20" stroke="#0000ff" stroke-width="1.1"/>
<circle cx="301.80" cy="532.30" r="1.65" fill="#0000ff"/>
<circle cx="298.50" cy="540.00" r="1.65" fill="#0000ff"/>
<circle cx="305.20" cy="537.50" r="1.65" fill="#0000ff"/>
<circle cx="302.50" cy="548.30" r="1.65" fill="#0000ff"/>
<circle cx="301.80" cy="555.40" r="1.65" fill="#0000ff"/>
<circle cx="301.80" cy="559.40" r="1.65" fill="#0000ff"/>
<line x1="333.20" y1="679.80" x2="364.60" y2="679.80" stroke="#111" stroke-width="1.1"/>
<circle cx="348.70" cy="642.30" r="1.65" fill="#111"/>
<circle cx="348.70" cy="655.30" r="1.65" fill="#111"/>
<circle cx="348.70" cy="670.80" r="1.65" fill="#111"/>
<circle cx="348.70" cy="679.80" r="1.65" fill="#111"/>
<circle cx="348.70" cy="689.80" r="1.65" fill="#111"/>
<circle cx="348.70" cy="697.60" r="1.65" fill="#111"/>
<circle cx="348.70" cy="701.90" r="1.65" fill="#111"/>
<path d="M301.7,526.4 V521.5 H348.9 V632.5" fill="none" stroke="#333" stroke-width="1.3"/>
<polygon points="317.00,513.05 317.78,514.63 319.52,514.88 318.26,516.11 318.56,517.84 317.00,517.03 315.44,517.84 315.74,516.11 314.48,514.88 316.22,514.63" fill="#2a2a2a"/>
<polygon points="322.70,513.05 323.48,514.63 325.22,514.88 323.96,516.11 324.26,517.84 322.70,517.03 321.14,517.84 321.44,516.11 320.18,514.88 321.92,514.63" fill="#2a2a2a"/>
<polygon points="328.30,513.05 329.08,514.63 330.82,514.88 329.56,516.11 329.86,517.84 328.30,517.03 326.74,517.84 327.04,516.11 325.78,514.88 327.52,514.63" fill="#2a2a2a"/>
<polygon points="334.00,513.05 334.78,514.63 336.52,514.88 335.26,516.11 335.56,517.84 334.00,517.03 332.44,517.84 332.74,516.11 331.48,514.88 333.22,514.63" fill="#2a2a2a"/>
<text stroke="#111" stroke-width="0.1" x="373.00" y="512.00" text-anchor="start" fill="#111" style="font-size:18px;font-weight:bold;" >e</text>
<text stroke="#0a2eff" stroke-width="0.1" x="421.90" y="558.00" text-anchor="middle" fill="#0a2eff" style="font-size:13px;" >NM</text>
<text stroke="#1a1a1a" stroke-width="0.1" x="511.30" y="558.00" text-anchor="middle" fill="#1a1a1a" style="font-size:13px;" >MEL</text>
<text stroke="#1a1a1a" stroke-width="0.1" x="397.30" y="608.60" text-anchor="middle" fill="#1a1a1a" style="font-size:13px;" >WT</text>
<text stroke="#1a1a1a" stroke-width="0.1" x="448.50" y="608.60" text-anchor="middle" fill="#1a1a1a" style="font-size:13px;" >WT</text>
<text stroke="#1a1a1a" stroke-width="0.1" x="491.70" y="608.60" text-anchor="middle" fill="#1a1a1a" style="font-size:13px;" >WT</text>
<text stroke="#1a1a1a" stroke-width="0.1" x="540.00" y="608.60" text-anchor="middle" fill="#1a1a1a" style="font-size:13px;" >WT</text>
<text stroke="#e8202a" stroke-width="0.1" x="400.90" y="685.10" text-anchor="middle" fill="#e8202a" style="font-size:13px;" ><tspan style="font-style:italic">ure1Δ</tspan></text>
<text stroke="#1a1a1a" stroke-width="0.1" x="448.50" y="685.10" text-anchor="middle" fill="#1a1a1a" style="font-size:13px;" >WT</text>
<text stroke="#e8202a" stroke-width="0.1" x="492.50" y="685.10" text-anchor="middle" fill="#e8202a" style="font-size:13px;" ><tspan style="font-style:italic">ure1Δ</tspan></text>
<text stroke="#1a1a1a" stroke-width="0.1" x="540.00" y="685.10" text-anchor="middle" fill="#1a1a1a" style="font-size:13px;" >WT</text>
<line x1="604.60" y1="523.05" x2="604.60" y2="711.05" stroke="#444" stroke-width="1.3"/>
<line x1="601.20" y1="710.40" x2="604.60" y2="710.40" stroke="#444" stroke-width="1.3"/>
<text stroke="#1a1a1a" stroke-width="0.1" x="600.80" y="715.40" text-anchor="end" fill="#1a1a1a" style="font-size:11.7px;" >0</text>
<line x1="601.20" y1="647.95" x2="604.60" y2="647.95" stroke="#444" stroke-width="1.3"/>
<text stroke="#1a1a1a" stroke-width="0.1" x="600.80" y="652.95" text-anchor="end" fill="#1a1a1a" style="font-size:11.7px;" >0.5</text>
<line x1="601.20" y1="585.50" x2="604.60" y2="585.50" stroke="#444" stroke-width="1.3"/>
<text stroke="#1a1a1a" stroke-width="0.1" x="600.80" y="590.50" text-anchor="end" fill="#1a1a1a" style="font-size:11.7px;" >1.0</text>
<line x1="601.20" y1="523.05" x2="604.60" y2="523.05" stroke="#444" stroke-width="1.3"/>
<text stroke="#1a1a1a" stroke-width="0.1" x="600.80" y="528.05" text-anchor="end" fill="#1a1a1a" style="font-size:11.7px;" >1.5</text>
<line x1="604.00" y1="710.40" x2="687.60" y2="710.40" stroke="#444" stroke-width="1.3"/>
<text stroke="#0a2eff" stroke-width="0.1" x="631.40" y="722.60" text-anchor="middle" fill="#0a2eff" style="font-size:13px;" >NM</text>
<text stroke="#1a1a1a" stroke-width="0.1" x="672.90" y="722.60" text-anchor="middle" fill="#1a1a1a" style="font-size:13px;" >MEL</text>
<text stroke="#1a1a1a" stroke-width="0.1" x="0" y="0" text-anchor="middle" fill="#1a1a1a" style="font-size:11.6px" textLength="185.2" lengthAdjust="spacingAndGlyphs" transform="translate(579.10,617.25) rotate(-90) scale(1,1.1)">Net Increase in Pigmentation (x 10<tspan dy="-3.6" style="font-size:7.2px">6</tspan><tspan dy="3.6">)</tspan></text>
<line x1="612.30" y1="580.00" x2="642.40" y2="580.00" stroke="#0000ff" stroke-width="1.1"/>
<circle cx="627.30" cy="558.90" r="1.65" fill="#0000ff"/>
<circle cx="624.60" cy="578.40" r="1.65" fill="#0000ff"/>
<circle cx="630.70" cy="580.90" r="1.65" fill="#0000ff"/>
<circle cx="627.00" cy="608.50" r="1.65" fill="#0000ff"/>
<line x1="657.10" y1="699.40" x2="687.60" y2="699.40" stroke="#111" stroke-width="1.1"/>
<circle cx="672.30" cy="693.70" r="1.65" fill="#111"/>
<circle cx="672.30" cy="698.00" r="1.65" fill="#111"/>
<circle cx="669.30" cy="702.40" r="1.65" fill="#111"/>
<circle cx="675.50" cy="701.20" r="1.65" fill="#111"/>
<path d="M627.3,555.0 V549.7 H672.4 V689.5" fill="none" stroke="#333" stroke-width="1.3"/>
<polygon points="641.20,540.75 641.98,542.33 643.72,542.58 642.46,543.81 642.76,545.54 641.20,544.73 639.64,545.54 639.94,543.81 638.68,542.58 640.42,542.33" fill="#2a2a2a"/>
<polygon points="646.80,540.75 647.58,542.33 649.32,542.58 648.06,543.81 648.36,545.54 646.80,544.73 645.24,545.54 645.54,543.81 644.28,542.58 646.02,542.33" fill="#2a2a2a"/>
<polygon points="652.50,540.75 653.28,542.33 655.02,542.58 653.76,543.81 654.06,545.54 652.50,544.73 650.94,545.54 651.24,543.81 649.98,542.58 651.72,542.33" fill="#2a2a2a"/>
<polygon points="658.20,540.75 658.98,542.33 660.72,542.58 659.46,543.81 659.76,545.54 658.20,544.73 656.64,545.54 656.94,543.81 655.68,542.58 657.42,542.33" fill="#2a2a2a"/>
</svg>
</body></html>
